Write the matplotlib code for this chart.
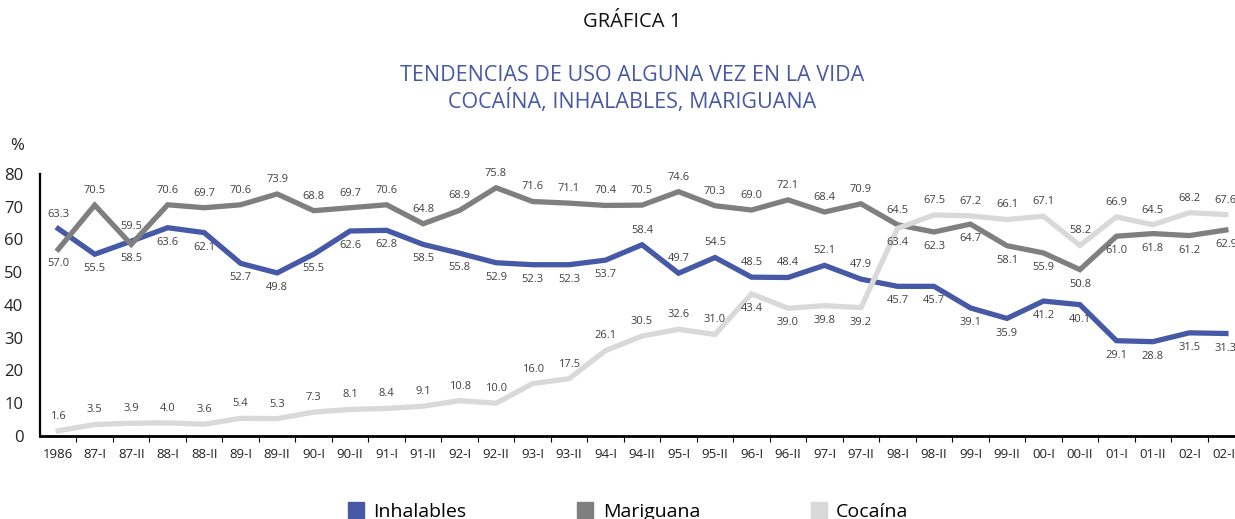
import matplotlib
matplotlib.use("Agg")
import matplotlib.pyplot as plt
from matplotlib.lines import Line2D

plt.rcParams['font.family'] = ['Open Sans', 'DejaVu Sans']

periodos = ['1986', '87-I', '87-II', '88-I', '88-II', '89-I', '89-II', '90-I', '90-II',
            '91-I', '91-II', '92-I', '92-II', '93-I', '93-II', '94-I', '94-II', '95-I',
            '95-II', '96-I', '96-II', '97-I', '97-II', '98-I', '98-II', '99-I', '99-II',
            '00-I', '00-II', '01-I', '01-II', '02-I', '02-II']

inhalables = [63.3, 55.5, 59.5, 63.6, 62.1, 52.7, 49.8, 55.5, 62.6, 62.8, 58.5, 55.8,
              52.9, 52.3, 52.3, 53.7, 58.4, 49.7, 54.5, 48.5, 48.4, 52.1, 47.9, 45.7,
              45.7, 39.1, 35.9, 41.2, 40.1, 29.1, 28.8, 31.5, 31.3]
mariguana = [57.0, 70.5, 58.5, 70.6, 69.7, 70.6, 73.9, 68.8, 69.7, 70.6, 64.8, 68.9,
             75.8, 71.6, 71.1, 70.4, 70.5, 74.6, 70.3, 69.0, 72.1, 68.4, 70.9, 64.5,
             62.3, 64.7, 58.1, 55.9, 50.8, 61.0, 61.8, 61.2, 62.9]
cocaina = [1.6, 3.5, 3.9, 4.0, 3.6, 5.4, 5.3, 7.3, 8.1, 8.4, 9.1, 10.8, 10.0, 16.0,
           17.5, 26.1, 30.5, 32.6, 31.0, 43.4, 39.0, 39.8, 39.2, 63.4, 67.5, 67.2,
           66.1, 67.1, 58.2, 66.9, 64.5, 68.2, 67.6]

# label placement: u = above the line, d = below
pos_inh = 'udu' + 'd' * 13 + 'u' * 7 + 'd' * 10
pos_mar = 'dud' + 'u' * 21 + 'd' * 9
pos_coc = 'u' * 19 + 'd' * 5 + 'u' * 9

c_inh = '#4659a6'
c_mar = '#7f7f7f'
c_coc = '#d9d9d9'

fig = plt.figure(figsize=(12.35, 5.19), dpi=100)
ax = fig.add_axes([40 / 1235, 83 / 519, 1195 / 1235, 262 / 519])

x = list(range(len(periodos)))
series = [(inhalables, c_inh, pos_inh, 'Inhalables'),
          (mariguana, c_mar, pos_mar, 'Mariguana'),
          (cocaina, c_coc, pos_coc, 'Cocaína')]
for vals, col, pos, name in series:
    ax.plot(x, vals, color=col, lw=3.8, solid_joinstyle='miter', label=name)
    for xi, v, p in zip(x, vals, pos):
        off = 10.5 if p == 'u' else -10.5
        ax.annotate(f'{v:.1f}', (xi, v), xytext=(0, off), textcoords='offset points',
                    ha='center', va='center', fontsize=8, color='#404040')

ax.set_xlim(-0.5, 32.25)
ax.set_ylim(0, 80)
ax.set_yticks(range(0, 81, 10))
ax.set_xticks(x)
ax.set_xticklabels(periodos)
ax.set_xticks([i + 0.5 for i in x[:-1]], minor=True)
ax.tick_params(axis='x', which='major', length=0, pad=9, labelsize=9.5, colors='#222222')
ax.tick_params(axis='x', which='minor', length=4, width=0.8, direction='out')
ax.tick_params(axis='y', length=0, pad=12, labelsize=12, colors='#222222')

for s in ['top', 'right']:
    ax.spines[s].set_visible(False)
ax.spines['left'].set_linewidth(1.6)
ax.spines['bottom'].set_linewidth(2.0)

fig.text(10 / 1235, 1 - 146 / 519, '%', fontsize=12, va='center', color='#222222')
fig.text(0.512, 1 - 22 / 519, 'GRÁFICA 1', fontsize=14.5, ha='center', va='center',
         color='#111111')
fig.text(0.512, 1 - 89 / 519, 'TENDENCIAS DE USO ALGUNA VEZ EN LA VIDA\nCOCAÍNA, INHALABLES, MARIGUANA',
         fontsize=15.5, ha='center', va='center', color=c_inh, linespacing=1.12)

handles = [Line2D([], [], marker='s', ls='none', markersize=11, color=c, label=n)
           for _, c, _, n in series]
fig.legend(handles=handles, loc='center', bbox_to_anchor=(0.508, 0.013), ncol=3,
           frameon=False, fontsize=14, columnspacing=5.6, handletextpad=0.4,
           handlelength=1.0)

fig.savefig('out.png', dpi=100)
